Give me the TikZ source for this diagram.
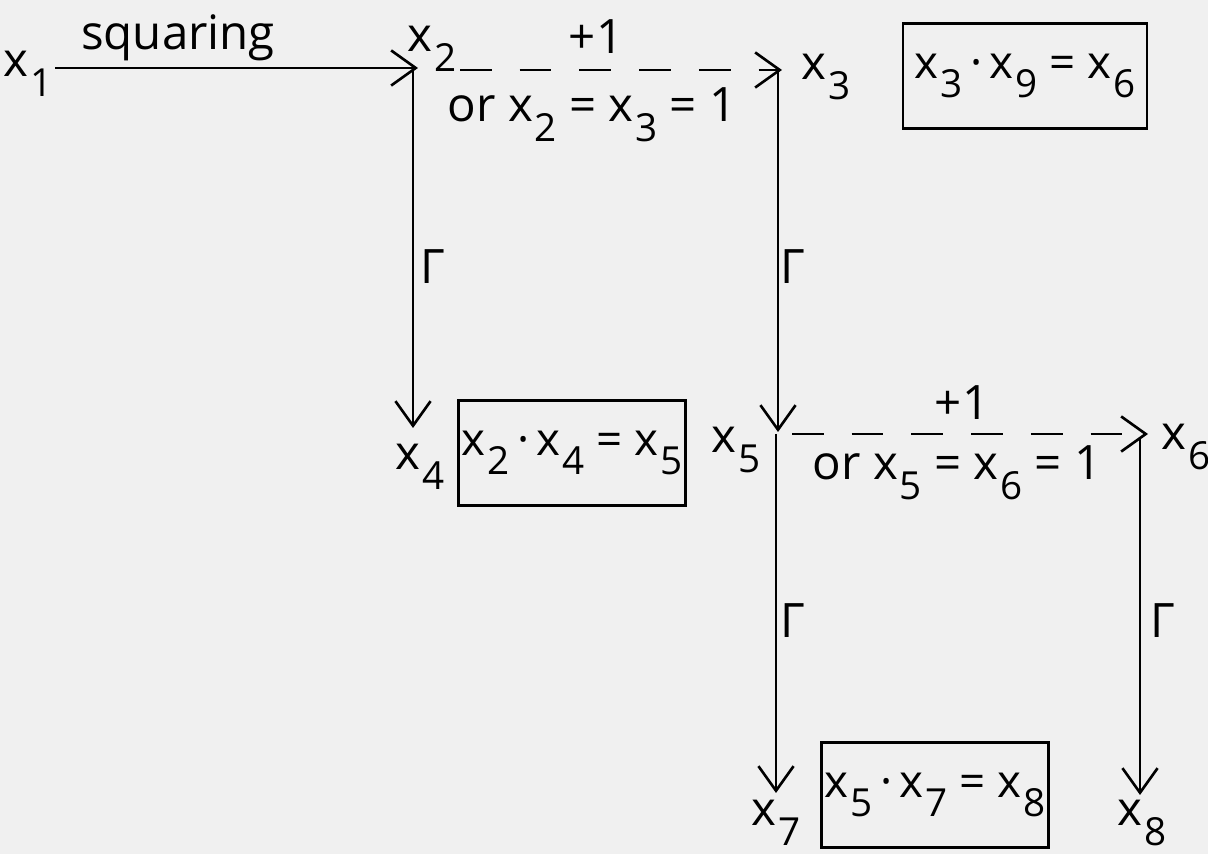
\documentclass[tikz,border=0pt]{standalone}
\usepackage{fontspec}
\setmainfont{Open Sans}
\usetikzlibrary{arrows.meta}
\newcommand\xv[1]{x\kern1pt\raisebox{-0.42em}{\fontsize{22}{24}\selectfont #1}}
\begin{document}
\begin{tikzpicture}[x=0.02cm,y=-0.02cm,
  lbl/.style={font=\fontsize{27}{30}\selectfont,inner sep=0pt,anchor=base},
  box/.style={draw,line width=1.6pt,inner xsep=2pt,minimum width=#1*0.02cm,minimum height=105*0.02cm,font=\fontsize{26}{30}\selectfont},
  arr/.style={line width=1.5pt,-{Straight Barb[length=14pt,width=20pt,line width=1.5pt]}},
  darr/.style={arr,dash pattern=on 18pt off 16pt}]
\fill[white!94!black] (0,0) rectangle (1208,854);
\useasboundingbox (0,0) rectangle (1208,854);
% coordinates
\coordinate (a1) at (55,68);
\coordinate (a2) at (418,68);
\coordinate (b1) at (413,70);
\coordinate (b2) at (413,428);
\coordinate (c1) at (460,70);
\coordinate (c2) at (782,70);
\coordinate (d1) at (778,72);
\coordinate (d2) at (778,432);
\coordinate (e1) at (792,434);
\coordinate (e2) at (1148,434);
\coordinate (f1) at (776,434);
\coordinate (f2) at (776,793);
\coordinate (g1) at (1140,438);
\coordinate (g2) at (1140,795);
% labels
\node[lbl] (x1) at (28,77) {\xv{1}};
\node[lbl] (sq) at (178,50) {squaring};
\node[lbl] (x2) at (432,52) {\xv{2}};
\node[lbl] (x3) at (826,80) {\xv{3}};
\node[lbl] (p1) at (596,54) {+1};
\node[lbl] (or1) at (592,122) {or \xv{2} = \xv{3} = 1};
\node[box=244] (bx1) at (1025,76) {\xv{3}\,·\,\xv{9} = \xv{6}};
\node[lbl] (g1l) at (433,284) {Γ};
\node[lbl] (g2l) at (793,284) {Γ};
\node[lbl] (x4) at (420,470) {\xv{4}};
\node[box=222] (bx2) at (572,453) {\xv{2}\,·\,\xv{4} = \xv{5}};
\node[lbl] (x5) at (736,453) {\xv{5}};
\node[lbl] (p2) at (962,420) {+1};
\node[lbl] (or2) at (957,480) {or \xv{5} = \xv{6} = 1};
\node[lbl] (x6) at (1186,450) {\xv{6}};
\node[lbl] (g3l) at (793,638) {Γ};
\node[lbl] (g4l) at (1163,638) {Γ};
\node[lbl] (x7) at (776,826) {\xv{7}};
\node[box=220] (bx3) at (935,795) {\xv{5}\,·\,\xv{7} = \xv{8}};
\node[lbl] (x8) at (1142,826) {\xv{8}};
% connectors
\draw[arr] (a1) -- (a2);
\draw[arr] (b1) -- (b2);
\draw[darr] (c1) -- (c2);
\draw[arr] (d1) -- (d2);
\draw[darr] (e1) -- (e2);
\draw[arr] (f1) -- (f2);
\draw[arr] (g1) -- (g2);
\end{tikzpicture}
\end{document}
